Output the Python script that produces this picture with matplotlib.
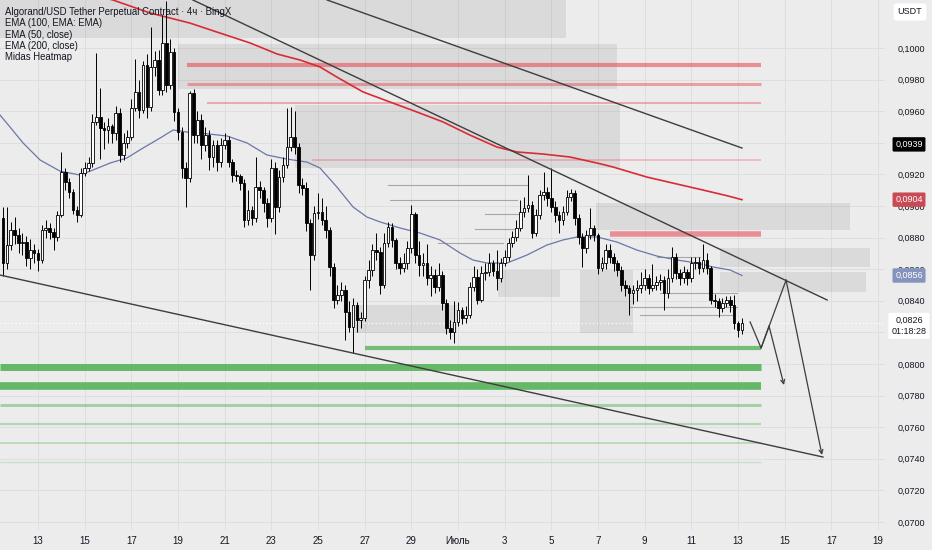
import numpy as np
import matplotlib
matplotlib.use("Agg")
import matplotlib.pyplot as plt
import matplotlib.transforms as mtransforms

plt.rcParams['font.family'] = ['Liberation Sans Narrow', 'Liberation Sans', 'DejaVu Sans']

# ---------------- data (x in days, day 0 = 13 June; prices in USDT) ----------------
first_open = 0.08924
start_day = -1.5          # first 4h candle: 11 June 12:00
closes = [
    0.08639, 0.08753, 0.08848, 0.08816, 0.08766, 0.08772, 0.08671, 0.08721, 0.08702, 0.08658,
    0.08848, 0.08861, 0.08835, 0.08804, 0.08943, 0.09215, 0.09152, 0.09088, 0.08975, 0.08943,
    0.09209, 0.09240, 0.09272, 0.09532, 0.09563, 0.09494, 0.09481, 0.09506, 0.09462, 0.09589,
    0.09323, 0.09399, 0.09437, 0.09620, 0.09722, 0.09608, 0.09892, 0.09627, 0.09880, 0.09924,
    0.09734, 0.10032, 0.09766, 0.09975, 0.09595, 0.09468, 0.09240, 0.09177, 0.09715, 0.09449,
    0.09544, 0.09386, 0.09449, 0.09310, 0.09386, 0.09278, 0.09386, 0.09418, 0.09278, 0.09196,
    0.09190, 0.09145, 0.08911, 0.08975, 0.08924, 0.09120, 0.09101, 0.09019, 0.08924, 0.09240,
    0.08994, 0.09183, 0.09259, 0.09373, 0.09437, 0.09373, 0.09133, 0.09114, 0.08892, 0.08690,
    0.08956, 0.08962, 0.08911, 0.08848, 0.08614, 0.08405, 0.08437, 0.08468, 0.08329, 0.08234,
    0.08373, 0.08278, 0.08291, 0.08531, 0.08595, 0.08721, 0.08709, 0.08500, 0.08766, 0.08867,
    0.08785, 0.08639, 0.08607, 0.08639, 0.08734, 0.08949, 0.08690, 0.08626, 0.08639, 0.08544,
    0.08563, 0.08487, 0.08563, 0.08386, 0.08228, 0.08202, 0.08266, 0.08342, 0.08291, 0.08310,
    0.08487, 0.08550, 0.08405, 0.08576, 0.08582, 0.08639, 0.08588, 0.08544, 0.08639, 0.08677,
    0.08766, 0.08804, 0.08861, 0.08962, 0.08987, 0.09006, 0.08829, 0.08943, 0.09070, 0.09088,
    0.09051, 0.08994, 0.08943, 0.08911, 0.08962, 0.09057, 0.09082, 0.08924, 0.08804, 0.08734,
    0.08816, 0.08861, 0.08816, 0.08607, 0.08639, 0.08721, 0.08677, 0.08639, 0.08595, 0.08500,
    0.08481, 0.08449, 0.08468, 0.08481, 0.08500, 0.08544, 0.08481, 0.08500, 0.08519, 0.08531,
    0.08449, 0.08544, 0.08677, 0.08576, 0.08544, 0.08582, 0.08544, 0.08639, 0.08645, 0.08607,
    0.08658, 0.08607, 0.08405, 0.08400, 0.08354, 0.08386, 0.08405, 0.08373, 0.08259, 0.08215,
    0.08259]
highs = [
    0.08994, 0.08994, 0.08900, 0.08930, 0.08860, 0.08830, 0.08810, 0.08790, 0.08760, 0.08730,
    0.08880, 0.08910, 0.08890, 0.08860, 0.08970, 0.09342, 0.09240, 0.09180, 0.09110, 0.09000,
    0.09240, 0.09280, 0.09310, 0.09580, 0.09968, 0.09750, 0.09530, 0.09560, 0.09520, 0.09630,
    0.09620, 0.09460, 0.09480, 0.09680, 0.09930, 0.09800, 0.09920, 0.09960, 0.10133, 0.09980,
    0.09990, 0.10209, 0.10300, 0.10060, 0.10000, 0.09620, 0.09500, 0.09280, 0.09730, 0.09740,
    0.09600, 0.09580, 0.09500, 0.09480, 0.09420, 0.09420, 0.09430, 0.09460, 0.09440, 0.09300,
    0.09230, 0.09200, 0.09170, 0.09100, 0.09000, 0.09310, 0.09160, 0.09120, 0.09050, 0.09300,
    0.09280, 0.09230, 0.09310, 0.09620, 0.09627, 0.09600, 0.09400, 0.09180, 0.09150, 0.08920,
    0.09000, 0.09080, 0.09050, 0.09000, 0.08870, 0.08640, 0.08500, 0.08520, 0.08500, 0.08400,
    0.08420, 0.08390, 0.08330, 0.08560, 0.08660, 0.08760, 0.08830, 0.08740, 0.08830, 0.08900,
    0.08890, 0.08800, 0.08680, 0.08700, 0.08780, 0.09006, 0.08960, 0.08780, 0.08700, 0.08760,
    0.08620, 0.08600, 0.08640, 0.08590, 0.08410, 0.08280, 0.08400, 0.08390, 0.08360, 0.08370,
    0.08520, 0.08620, 0.08600, 0.08620, 0.08640, 0.08700, 0.08660, 0.08720, 0.08670, 0.08720,
    0.08800, 0.08840, 0.08910, 0.09040, 0.09060, 0.09196, 0.09030, 0.08980, 0.09100, 0.09215,
    0.09120, 0.09240, 0.09030, 0.08970, 0.09000, 0.09100, 0.09110, 0.09100, 0.08950, 0.08830,
    0.08850, 0.08987, 0.08880, 0.08830, 0.08680, 0.08760, 0.08760, 0.08700, 0.08660, 0.08620,
    0.08530, 0.08500, 0.08500, 0.08530, 0.08580, 0.08600, 0.08570, 0.08630, 0.08560, 0.08570,
    0.08560, 0.08600, 0.08740, 0.08700, 0.08600, 0.08620, 0.08600, 0.08680, 0.08680, 0.08680,
    0.08760, 0.08700, 0.08620, 0.08440, 0.08420, 0.08420, 0.08430, 0.08430, 0.08437, 0.08270,
    0.08290]
lows = [
    0.08560, 0.08600, 0.08720, 0.08760, 0.08700, 0.08690, 0.08620, 0.08600, 0.08640, 0.08590,
    0.08640, 0.08800, 0.08790, 0.08720, 0.08780, 0.08930, 0.09100, 0.09050, 0.08950, 0.08900,
    0.08930, 0.09190, 0.09220, 0.09250, 0.09510, 0.09300, 0.09360, 0.09400, 0.09400, 0.09420,
    0.09280, 0.09290, 0.09370, 0.09420, 0.09600, 0.09560, 0.09590, 0.09560, 0.09600, 0.09820,
    0.09700, 0.09700, 0.09720, 0.09740, 0.09540, 0.09420, 0.09180, 0.08994, 0.09150, 0.09400,
    0.09400, 0.09300, 0.09350, 0.09230, 0.09250, 0.09220, 0.09250, 0.09360, 0.09250, 0.09150,
    0.09160, 0.09100, 0.08870, 0.08880, 0.08880, 0.08900, 0.09050, 0.08960, 0.08870, 0.08900,
    0.08820, 0.08960, 0.09150, 0.09240, 0.09350, 0.09330, 0.09080, 0.09070, 0.08840, 0.08468,
    0.08660, 0.08920, 0.08880, 0.08800, 0.08560, 0.08354, 0.08380, 0.08400, 0.08152, 0.08200,
    0.08070, 0.08200, 0.08230, 0.08270, 0.08480, 0.08560, 0.08660, 0.08440, 0.08480, 0.08740,
    0.08740, 0.08600, 0.08570, 0.08580, 0.08600, 0.08700, 0.08640, 0.08560, 0.08560, 0.08500,
    0.08430, 0.08450, 0.08460, 0.08340, 0.08190, 0.08160, 0.08133, 0.08240, 0.08250, 0.08260,
    0.08290, 0.08460, 0.08380, 0.08390, 0.08530, 0.08560, 0.08560, 0.08470, 0.08520, 0.08620,
    0.08650, 0.08740, 0.08780, 0.08840, 0.08930, 0.08960, 0.08800, 0.08810, 0.08920, 0.09040,
    0.09000, 0.08960, 0.08900, 0.08830, 0.08880, 0.08940, 0.09030, 0.08880, 0.08760, 0.08614,
    0.08700, 0.08790, 0.08780, 0.08570, 0.08590, 0.08600, 0.08640, 0.08590, 0.08560, 0.08460,
    0.08430, 0.08310, 0.08380, 0.08400, 0.08450, 0.08470, 0.08440, 0.08460, 0.08470, 0.08470,
    0.08340, 0.08420, 0.08520, 0.08540, 0.08500, 0.08510, 0.08500, 0.08520, 0.08600, 0.08570,
    0.08580, 0.08570, 0.08380, 0.08360, 0.08300, 0.08330, 0.08360, 0.08330, 0.08220, 0.08170,
    0.08190]

ema50_days = [-1.63, -1.20, -0.64, 0.09, 0.94, 1.80, 2.36, 3.09, 3.81, 4.50, 5.23, 5.79, 6.39,
              6.94, 8.10, 8.96, 9.81, 10.67, 11.53, 12.09, 12.81, 13.50, 14.10, 14.66, 15.51,
              16.37, 17.23, 18.09, 18.64, 19.24, 20.10, 20.96, 21.81, 22.50, 23.10, 23.96,
              24.81, 25.67, 26.53, 27.39, 28.24, 28.93, 29.66, 30.17]
ema50_vals = [0.09576, 0.09500, 0.09399, 0.09291, 0.09221, 0.09196, 0.09228, 0.09272, 0.09304,
              0.09367, 0.09430, 0.09481, 0.09468, 0.09462, 0.09443, 0.09399, 0.09323, 0.09297,
              0.09278, 0.09240, 0.09120, 0.08994, 0.08930, 0.08899, 0.08861, 0.08829, 0.08785,
              0.08702, 0.08658, 0.08639, 0.08639, 0.08690, 0.08753, 0.08785, 0.08804, 0.08804,
              0.08772, 0.08721, 0.08683, 0.08658, 0.08639, 0.08614, 0.08595, 0.08560]
ema200_days = [2.23, 3.21, 4.80, 6.51, 7.67, 9.09, 10.25, 11.23, 12.09, 12.81, 13.93, 15.09,
               16.24, 17.36, 18.51, 19.67, 20.53, 21.64, 22.80, 23.96, 24.64, 26.10, 27.21,
               28.50, 29.53, 30.17]
ema200_vals = [0.10342, 0.10304, 0.10222, 0.10158, 0.10101, 0.10032, 0.09962, 0.09924, 0.09880,
               0.09816, 0.09722, 0.09658, 0.09595, 0.09532, 0.09449, 0.09373, 0.09342, 0.09329,
               0.09310, 0.09272, 0.09247, 0.09183, 0.09145, 0.09101, 0.09065, 0.09040]

trend_upper_x, trend_upper_y = [12.39, 30.17], [0.10304, 0.09367]
trend_mid_x, trend_mid_y = [6.64, 33.82], [0.10304, 0.08405]
trend_low_x, trend_low_y = [-1.63, 33.64], [0.08563, 0.07411]

path_big_x = [30.52, 30.99, 32.06, 33.60]
path_big_y = [0.08266, 0.08101, 0.08531, 0.07424]
path_small_x = [30.99, 31.33, 31.97]
path_small_y = [0.08101, 0.08240, 0.07867]

green_prices = [0.0810, 0.0798, 0.0786, 0.0774, 0.0762, 0.0750, 0.0738]
green_start = [14.01, -1.63, -1.63, -1.63, -1.63, -1.63, -1.63]
red_prices = [0.0989, 0.0977, 0.0965, 0.0929, 0.0882]
red_start = [6.39, 6.39, 7.24, 11.74, 24.51]
levels_end = 30.99

heat_x0 = [-1.63, 6.00, 11.01, 23.91, 29.23, 29.23, 13.59, 19.71, 23.23]
heat_x1 = [22.63, 24.82, 24.94, 34.80, 35.66, 35.49, 17.96, 22.37, 25.50]
heat_y0 = [0.10063, 0.09740, 0.09240, 0.08848, 0.08614, 0.08456, 0.08196, 0.08424, 0.08196]
heat_y1 = [0.10320, 0.10025, 0.09639, 0.09019, 0.08734, 0.08582, 0.08373, 0.08595, 0.08595]

heatline_price = [0.09133, 0.09038, 0.08949, 0.08854, 0.08766, 0.08677, 0.08449, 0.08361, 0.08310]
heatline_x0 = [15.00, 15.09, 19.16, 18.73, 17.14, 26.53, 26.66, 25.37, 25.80]
heatline_x1 = [20.96, 20.53, 20.57, 20.53, 19.93, 28.37, 29.96, 29.96, 29.87]

last_price = 0.0826
ema100_last, ema200_last, ema50_last = 0.0939, 0.0904, 0.0856
countdown = "01:18:28"

date_ticks = list(range(0, 38, 2))
date_labels = ["13", "15", "17", "19", "21", "23", "25", "27", "29", "Июль",
               "3", "5", "7", "9", "11", "13", "15", "17", "19"]
price_ticks = [0.0700 + 0.002 * k for k in range(16)]
hidden_price_ticks = [0.0820, 0.0940]   # covered by the price tags in the original

legend_lines = ["Algorand/USD Tether Perpetual Contract · 4ч · BingX",
                "EMA (100, EMA: EMA)", "EMA (50, close)", "EMA (200, close)", "Midas Heatmap"]

# ---------------- figure ----------------
W, H = 932, 550
BG = '#ececec'
fig = plt.figure(figsize=(W / 100, H / 100), dpi=100, facecolor=BG)
ax = fig.add_axes([0, 20 / H, 885 / W, 530 / H], facecolor=BG)
ax.set_xlim(-1.629, 36.30)
ax.set_ylim(0.06949, 0.10304)
for s in ax.spines.values():
    s.set_visible(False)

def fmt(p):
    return f"{p:.4f}".replace('.', ',')

ax.set_xticks(date_ticks)
ax.set_xticklabels(date_labels)
ax.set_yticks(price_ticks)
ax.set_yticklabels(['' if any(abs(p - h) < 1e-6 for h in hidden_price_ticks) else fmt(p)
                    for p in price_ticks])
ax.yaxis.tick_right()
ax.tick_params(axis='both', length=0, colors='#131722')
ax.tick_params(axis='y', pad=9, labelsize=6.5)
ax.tick_params(axis='x', pad=4, labelsize=7.0)
ax.grid(True, color='#dedede', lw=0.7)
ax.set_axisbelow(True)

# heatmap boxes
for x0, x1, y0, y1 in zip(heat_x0, heat_x1, heat_y0, heat_y1):
    ax.fill_between([x0, x1], y0, y1, color='black', alpha=0.075, lw=0, zorder=1)
for p, x0, x1 in zip(heatline_price, heatline_x0, heatline_x1):
    ax.plot([x0, x1], [p, p], color='#7a7a7a', lw=0.8, alpha=0.6, zorder=1.5)

# levels
green_lw = [3.0, 5.0, 5.5, 2.2, 1.6, 1.4, 1.0]
green_al = [0.75, 0.85, 0.85, 0.45, 0.35, 0.30, 0.20]
for p, x0, lw, a in zip(green_prices, green_start, green_lw, green_al):
    ax.plot([x0, levels_end], [p, p], color='#4caf50', lw=lw, alpha=a, solid_capstyle='butt', zorder=2)
red_lw = [3.0, 2.2, 1.4, 1.1, 4.0]
red_al = [0.55, 0.45, 0.40, 0.35, 0.55]
for p, x0, lw, a in zip(red_prices, red_start, red_lw, red_al):
    ax.plot([x0, levels_end], [p, p], color='#e8424f', lw=lw, alpha=a, solid_capstyle='butt', zorder=2)

# last price dotted line
ax.axhline(last_price, color='white', lw=0.9, ls=(0, (1, 2)), zorder=2)

# EMA lines
ax.plot(ema200_days, ema200_vals, color='#d92b36', lw=1.2, zorder=3)
ax.plot(ema50_days, ema50_vals, color='#6a77a9', lw=0.9, zorder=3)

# candles
n = len(closes)
xs = start_day + np.arange(n) / 6.0
opens = [first_open] + closes[:-1]
for x, o, h, l, c in zip(xs, opens, highs, lows, closes):
    top, bot = max(o, c), min(o, c)
    ax.vlines(x, min(l, bot), max(h, top), color='black', lw=0.7, zorder=4)
    up = c >= o
    ax.bar(x, max(top - bot, 0.00002), bottom=bot, width=0.115,
           color='white' if up else 'black', edgecolor='black', lw=0.6, zorder=5)

# trend lines
for tx, ty in [(trend_upper_x, trend_upper_y), (trend_mid_x, trend_mid_y), (trend_low_x, trend_low_y)]:
    ax.plot(tx, ty, color='#3d3d3d', lw=1.0, zorder=6)

# projection paths with arrows
for px, py in [(path_big_x, path_big_y), (path_small_x, path_small_y)]:
    ax.plot(px[:-1], py[:-1], color='#3d3d3d', lw=0.9, zorder=6)
    ax.annotate('', xy=(px[-1], py[-1]), xytext=(px[-2], py[-2]),
                arrowprops=dict(arrowstyle='->', color='#3d3d3d', lw=0.9, shrinkA=0, shrinkB=0,
                                mutation_scale=7), zorder=6)

# price-scale labels
tr = mtransforms.blended_transform_factory(ax.transAxes, ax.transData)
lx = 909 / 885
def tag(y, s, fc, tc):
    ax.text(lx, y, s, transform=tr, ha='center', va='center', fontsize=6.5, color=tc,
            clip_on=False, zorder=10,
            bbox=dict(boxstyle='round,pad=0.3,rounding_size=0.15', fc=fc, ec='none'))
tag(ema100_last, fmt(ema100_last), '#000000', 'white')
tag(ema200_last, fmt(ema200_last), '#c94a55', 'white')
tag(ema50_last, fmt(ema50_last), '#8593bf', 'white')
up_shift = tr + mtransforms.ScaledTranslation(0, 5 / 72, fig.dpi_scale_trans)
ax.text(lx, last_price, fmt(last_price) + "\n" + countdown, transform=up_shift,
        ha='center', va='top', fontsize=6.5, color='#131722', clip_on=False, zorder=10,
        linespacing=1.25,
        bbox=dict(boxstyle='round,pad=0.35,rounding_size=0.15', fc='white', ec='none'))

fig.text(910 / W, 1 - 12 / H, "USDT", ha='center', va='center', fontsize=6.5, color='#131722',
         bbox=dict(boxstyle='round,pad=0.45,rounding_size=0.3', fc='white', ec='none'))

# legend
for k, s in enumerate(legend_lines):
    fig.text(5 / W, 1 - (12 + 11.3 * k) / H, s, ha='left', va='center', fontsize=6.9,
             color='#131722')

fig.savefig('out.png', dpi=100, facecolor=BG)
